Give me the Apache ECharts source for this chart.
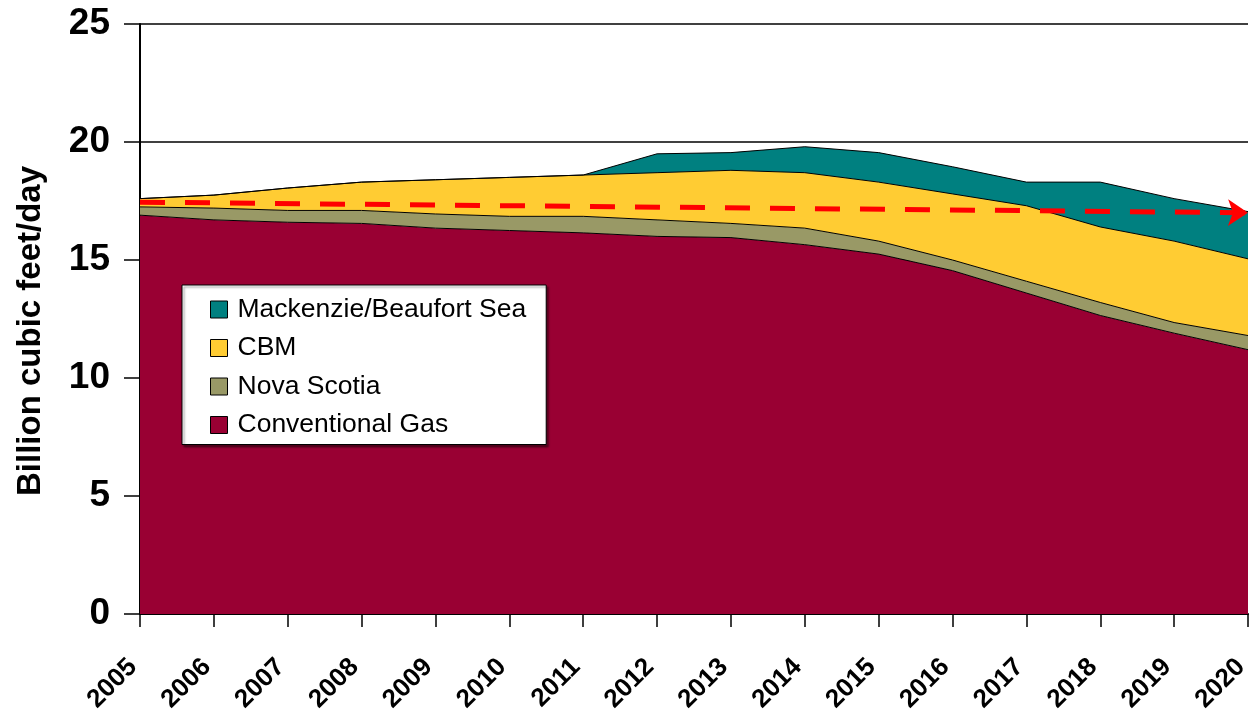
<!DOCTYPE html>
<html>
<head>
<meta charset="utf-8">
<title>Canadian gas supply</title>
<script src="https://cdn.jsdelivr.net/npm/echarts@6/dist/echarts.min.js"></script>
<style>
  html, body { margin: 0; padding: 0; background: #fff; }
  #chart { width: 1250px; height: 718px; }
</style>
</head>
<body>
<div id="chart"></div>
<script>
// years on the x axis
const years = ['2005', '2006', '2007', '2008', '2009', '2010', '2011', '2012',
  '2013', '2014', '2015', '2016', '2017', '2018', '2019', '2020']

// stacked layers, billion cubic feet/day
const conventionalGas = [16.9, 16.7, 16.6, 16.55, 16.35, 16.25, 16.15, 16.0, 15.95, 15.65, 15.25, 14.55, 13.6, 12.65, 11.9, 11.2]
const novaScotia = [0.35, 0.5, 0.5, 0.55, 0.6, 0.6, 0.7, 0.7, 0.6, 0.7, 0.55, 0.45, 0.5, 0.55, 0.45, 0.6]
const cbm = [0.35, 0.55, 0.95, 1.2, 1.45, 1.65, 1.75, 2.0, 2.25, 2.35, 2.5, 2.8, 3.2, 3.2, 3.45, 3.25]
const mackenzie = [0, 0, 0, 0, 0, 0, 0, 0.8, 0.75, 1.1, 1.25, 1.15, 1.0, 1.9, 1.8, 2.0]

// red dashed trend arrow: start and end values
const trendStart = 17.45
const trendEnd = 17.0

const chart = echarts.init(document.getElementById('chart'))

function layer(name, data, color) {
  return {
    name: name,
    type: 'line',
    stack: 'total',
    data: data,
    symbol: 'none',
    itemStyle: { color: color },
    lineStyle: { color: '#000', width: 1 },
    areaStyle: { color: color, opacity: 1 }
  }
}

const series = [
  layer('Conventional Gas', conventionalGas, '#990033'),
  layer('Nova Scotia', novaScotia, '#999966'),
  layer('CBM', cbm, '#ffcc33'),
  layer('Mackenzie/Beaufort Sea', mackenzie, '#008080')
]
series[3].clip = false
series[3].markLine = {
  silent: true,
  symbol: ['none', 'arrow'],
  symbolSize: 20,
  label: { show: false },
  lineStyle: { color: '#ff0000', width: 5, type: [25, 20] },
  data: [[{ coord: [years[0], trendStart] }, { coord: [years[years.length - 1], trendEnd] }]]
}

chart.setOption({
  animation: false,
  textStyle: { fontFamily: 'Liberation Sans, Arial, sans-serif' },
  grid: { left: 140, right: 2, top: 24, bottom: 104, outerBoundsMode: 'none' },
  legend: {
    orient: 'vertical',
    left: 182,
    top: 285,
    padding: [11, 20, 6, 28],
    backgroundColor: '#fff',
    borderColor: '#000',
    borderWidth: 1,
    shadowColor: 'rgba(0,0,0,0.45)',
    shadowBlur: 2,
    shadowOffsetX: 2,
    shadowOffsetY: 2,
    icon: 'rect',
    itemWidth: 17,
    itemHeight: 17,
    itemGap: 11.5,
    itemStyle: { borderColor: '#000', borderWidth: 1 },
    textStyle: { fontSize: 26.5, color: '#000', lineHeight: 24, padding: [0, 0, 0, 5] },
    data: ['Mackenzie/Beaufort Sea', 'CBM', 'Nova Scotia', 'Conventional Gas']
  },
  xAxis: {
    type: 'category',
    data: years,
    boundaryGap: false,
    axisLine: { lineStyle: { color: '#000', width: 2 } },
    axisTick: { length: 13, lineStyle: { color: '#000', width: 1.5 } },
    axisLabel: {
      rotate: 45, margin: 42, color: '#000', fontSize: 26, fontWeight: 'bold',
      interval: 0, padding: [0, 10, 0, 0]
    }
  },
  yAxis: {
    type: 'value',
    min: 0,
    max: 25,
    interval: 5,
    name: 'Billion cubic feet/day',
    nameLocation: 'middle',
    nameGap: 93,
    nameTextStyle: { fontSize: 33, fontWeight: 'bold', color: '#000', padding: [0, 24, 0, 0] },
    axisLine: { show: true, lineStyle: { color: '#000', width: 2 } },
    axisTick: { show: true, length: 16, lineStyle: { color: '#000', width: 1.5 } },
    axisLabel: { margin: 30, color: '#000', fontSize: 37, fontWeight: 'bold' },
    splitLine: { lineStyle: { color: '#000', width: 1.5 } }
  },
  series: series
})
</script>
</body>
</html>
